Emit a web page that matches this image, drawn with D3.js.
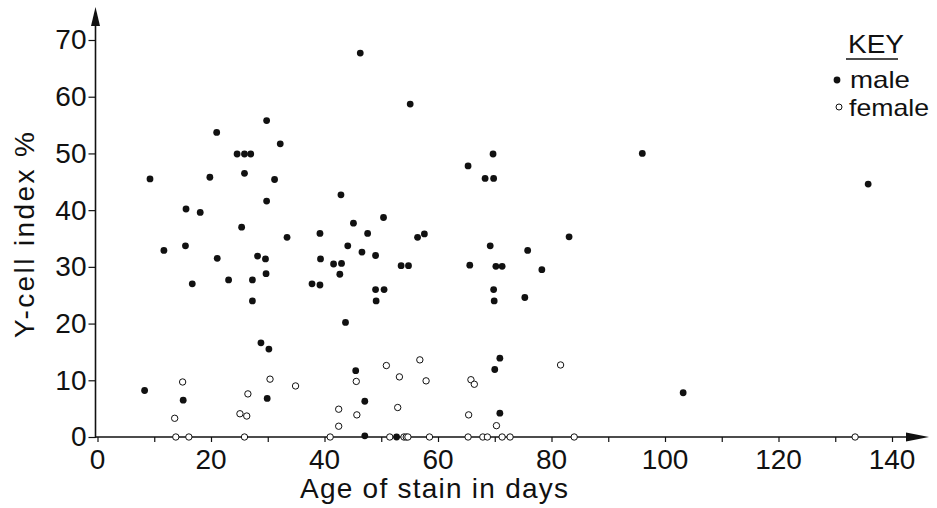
<!DOCTYPE html>
<html>
<head>
<meta charset="utf-8">
<script src="https://cdn.jsdelivr.net/npm/d3@7"></script>
<style>
  body { margin: 0; background: #fff; }
  svg text { font-family: "Liberation Sans", Arial, sans-serif; fill: #111; }
</style>
</head>
<body>
<svg id="chart" width="937" height="508"></svg>
<script>
// values: [age in days, Y-cell index %]
let male = [
  [9.25, 45.5], [15.6, 40.2], [18.1, 39.6], [19.8, 45.8], [21.0, 53.7],
  [24.6, 49.9], [25.9, 49.9], [27.0, 49.9], [25.9, 46.5], [29.8, 55.8],
  [32.2, 51.7], [31.2, 45.4], [29.8, 41.6], [25.4, 37.0], [33.4, 35.2],
  [39.2, 35.9], [11.7, 32.9], [15.5, 33.7], [21.1, 31.5], [28.2, 31.9],
  [29.6, 31.4], [39.3, 31.4], [16.7, 27.0], [23.1, 27.7], [27.3, 27.7],
  [29.7, 28.8], [27.3, 24.0], [37.8, 27.0], [39.2, 26.8], [28.8, 16.6],
  [30.2, 15.5], [8.3, 8.2], [15.1, 6.5], [29.9, 6.8],
  [46.3, 67.7], [55.1, 58.7], [69.7, 49.9], [65.3, 47.8], [68.3, 45.6],
  [69.8, 45.6], [42.9, 42.7], [50.4, 38.7], [45.1, 37.7], [47.6, 35.9],
  [57.6, 35.8], [56.4, 35.2], [83.1, 35.3], [44.1, 33.7], [69.2, 33.7],
  [75.8, 32.9], [46.6, 32.6], [49.0, 32.0], [41.6, 30.5], [43.0, 30.6],
  [42.7, 28.7], [53.5, 30.2], [54.8, 30.2], [65.6, 30.3], [70.2, 30.1],
  [71.3, 30.1], [78.3, 29.5], [49.0, 26.0], [50.5, 26.0], [49.1, 24.0],
  [69.8, 26.0], [69.9, 24.0], [75.3, 24.6], [43.7, 20.2], [45.5, 11.7],
  [70.9, 13.9], [70.0, 11.9], [47.1, 6.3], [70.9, 4.2], [47.1, 0.2],
  [52.7, 0], [96.0, 50.0], [135.8, 44.6], [103.2, 7.8]
];

let female = [
  [15.0, 9.7], [13.6, 3.3], [25.1, 4.1], [26.3, 3.7], [26.5, 7.6],
  [30.4, 10.2], [34.9, 9.0], [13.8, 0], [16.1, 0], [25.9, 0],
  [45.6, 9.8], [50.9, 12.6], [53.2, 10.6], [56.8, 13.6], [57.9, 9.9],
  [42.5, 4.9], [45.7, 3.9], [52.9, 5.2], [42.5, 1.9], [65.4, 3.9],
  [65.8, 10.1], [66.4, 9.3], [70.3, 2.0], [81.6, 12.7],
  [41.0, 0], [51.5, 0], [54.0, 0], [54.4, 0], [54.7, 0], [58.5, 0],
  [65.3, 0], [67.9, 0], [68.7, 0], [71.3, 0], [72.7, 0], [84.0, 0],
  [133.5, 0]
];

let xMajor = [0, 20, 40, 60, 80, 100, 120, 140];
let xMinor = [10, 30, 50, 70, 90, 110, 130];
let yTicks = [0, 10, 20, 30, 40, 50, 60, 70];

let svg = d3.select("#chart");

let x = d3.scaleLinear().domain([0, 140]).range([97.5, 892]);
let y = d3.scaleLinear().domain([0, 70]).range([437, 40]);

// x axis
let xAxis = svg.append("g").attr("transform", "translate(0," + y(0) + ")");
xAxis.call(d3.axisBottom(x).tickValues(xMajor.concat(xMinor)).tickSize(5).tickFormat(""));
xAxis.select(".domain").remove();
xAxis.selectAll(".tick line").attr("stroke", "#111").attr("stroke-width", 1.2);
xAxis.selectAll(".xlab")
  .data(xMajor)
  .join("text")
  .attr("x", d => x(d))
  .attr("y", 32)
  .attr("text-anchor", "middle")
  .style("font-size", "28px")
  .text(d => d);

svg.append("line")
  .attr("x1", x(0) - 2).attr("x2", 912)
  .attr("y1", y(0)).attr("y2", y(0))
  .attr("stroke", "#111").attr("stroke-width", 1.6);
svg.append("path")
  .attr("d", "M906," + (y(0) - 4.5) + "L929," + y(0) + "L906," + (y(0) + 4.5) + "Z")
  .attr("fill", "#111");

// y axis
let yAxis = svg.append("g").attr("transform", "translate(" + (x(0) - 2) + ",0)");
yAxis.call(d3.axisLeft(y).tickValues(yTicks).tickSize(7).tickPadding(2).tickFormat(d => d));
yAxis.select(".domain").remove();
yAxis.selectAll(".tick line").attr("stroke", "#111").attr("stroke-width", 1.2);
yAxis.selectAll(".tick text")
  .style("font-size", "28px")
  .style("font-family", "'Liberation Sans', Arial, sans-serif")
  .attr("fill", "#111");

svg.append("line")
  .attr("x1", x(0) - 2).attr("x2", x(0) - 2)
  .attr("y1", y(0) + 1).attr("y2", 20)
  .attr("stroke", "#111").attr("stroke-width", 1.6);
svg.append("path")
  .attr("d", "M" + (x(0) - 6.5) + ",26L" + (x(0) - 2) + ",7L" + (x(0) + 2.5) + ",26Z")
  .attr("fill", "#111");

// titles
svg.append("text")
  .attr("x", 300).attr("y", 498)
  .attr("textLength", 268).attr("lengthAdjust", "spacing")
  .style("font-size", "28px")
  .text("Age of stain in days");

svg.append("text")
  .attr("transform", "translate(34,338) rotate(-90)")
  .attr("textLength", 206).attr("lengthAdjust", "spacing")
  .style("font-size", "28px")
  .text("Y-cell index %");

// points
svg.append("g")
  .selectAll("circle")
  .data(male)
  .join("circle")
  .attr("cx", d => x(d[0]))
  .attr("cy", d => y(d[1]))
  .attr("r", 3.4)
  .attr("fill", "#111");

svg.append("g")
  .selectAll("circle")
  .data(female)
  .join("circle")
  .attr("cx", d => x(d[0]))
  .attr("cy", d => y(d[1]))
  .attr("r", 3.2)
  .attr("fill", "#fff")
  .attr("stroke", "#111")
  .attr("stroke-width", 1);

// key
let key = svg.append("g");
key.append("text").attr("x", 848).attr("y", 53).style("font-size", "26px")
  .attr("textLength", 56).attr("lengthAdjust", "spacingAndGlyphs").text("KEY");
key.append("line").attr("x1", 846).attr("x2", 898).attr("y1", 59).attr("y2", 59)
  .attr("stroke", "#111").attr("stroke-width", 1.3);
key.append("circle").attr("cx", 837).attr("cy", 80).attr("r", 3.4).attr("fill", "#111");
key.append("text").attr("x", 850).attr("y", 88).style("font-size", "24px")
  .attr("textLength", 60).attr("lengthAdjust", "spacingAndGlyphs").text("male");
key.append("circle").attr("cx", 839).attr("cy", 107).attr("r", 3).attr("fill", "#fff")
  .attr("stroke", "#111").attr("stroke-width", 1);
key.append("text").attr("x", 849).attr("y", 116).style("font-size", "24px")
  .attr("textLength", 80).attr("lengthAdjust", "spacingAndGlyphs").text("female");
</script>
</body>
</html>
